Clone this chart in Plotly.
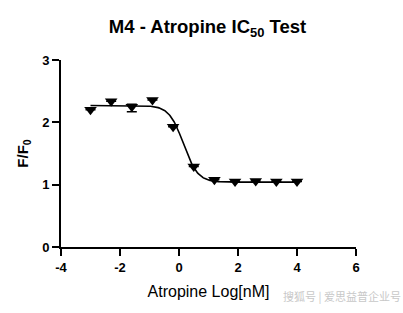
import numpy as np
import plotly.graph_objects as go

# Data
log_conc = [-3.0, -2.3, -1.6, -0.9, -0.2, 0.5, 1.2, 1.9, 2.6, 3.3, 4.0]
ratio = [2.20, 2.34, 2.25, 2.36, 1.93, 1.29, 1.08, 1.05, 1.06, 1.05, 1.05]
ratio_err_up = [0.0, 0.0, 0.04, 0.0, 0.0, 0.0, 0.0, 0.0, 0.0, 0.0, 0.0]
ratio_err_down = [0.0, 0.0, 0.08, 0.0, 0.0, 0.0, 0.0, 0.0, 0.0, 0.0, 0.0]

# 4PL fit parameters (estimated from the drawn curve)
fit_top = 2.27
fit_bottom = 1.04
fit_log_ic50 = 0.15
fit_hill = -1.8

x_ticks = [-4, -2, 0, 2, 4, 6]
y_ticks = [0, 1, 2, 3]

xc = np.linspace(min(log_conc), max(log_conc), 300)
yc = fit_bottom + (fit_top - fit_bottom) / (1 + 10 ** ((xc - fit_log_ic50) * (-fit_hill)))

fig = go.Figure()
fig.add_trace(go.Scatter(x=xc, y=yc, mode="lines",
                         line=dict(color="black", width=1.6), hoverinfo="skip"))
fig.add_trace(go.Scatter(x=log_conc, y=ratio, mode="markers",
                         marker=dict(symbol="triangle-down", size=11, color="black"),
                         error_y=dict(type="data", symmetric=False, array=ratio_err_up,
                                      arrayminus=ratio_err_down, color="black",
                                      thickness=1.5, width=5)))

font_family = "Liberation Sans, Arial, sans-serif"
fig.update_layout(
    width=403, height=313,
    margin=dict(l=61, r=47, t=60, b=66),
    paper_bgcolor="white", plot_bgcolor="white",
    showlegend=False,
    font=dict(family=font_family, color="black"),
    title=dict(text="<b>M4 - Atropine IC<sub>50</sub> Test</b>",
               x=0.515, xanchor="center", y=0.915, yanchor="middle",
               font=dict(size=18.5, family=font_family, color="black")),
)
fig.update_xaxes(range=[-4, 6], tickvals=x_ticks, ticktext=[f"<b>{v}</b>" for v in x_ticks],
                 showline=True, linecolor="black", linewidth=2,
                 ticks="outside", tickwidth=2, ticklen=7, tickcolor="black",
                 showgrid=False, zeroline=False,
                 tickfont=dict(size=13, family=font_family),
                 title=dict(text="Atropine Log[nM]", font=dict(size=16, family=font_family), standoff=12))
fig.update_yaxes(range=[0, 3], tickvals=y_ticks, ticktext=[f"<b>{v}</b>" for v in y_ticks],
                 showline=True, linecolor="black", linewidth=2,
                 ticks="outside", tickwidth=2, ticklen=7, tickcolor="black",
                 showgrid=False, zeroline=False,
                 tickfont=dict(size=13, family=font_family),
                 title=dict(text="<b>F/F<sub>0</sub></b>", font=dict(size=15, family=font_family), standoff=10))

fig.add_annotation(text="搜狐号 | 爱思益普企业号", xref="paper", yref="paper",
                   x=1.16, y=-0.26, xanchor="right", yanchor="middle", showarrow=False,
                   font=dict(size=11, family="Noto Sans CJK SC", color="#c8c8c8"))

fig.write_html("out.html")
